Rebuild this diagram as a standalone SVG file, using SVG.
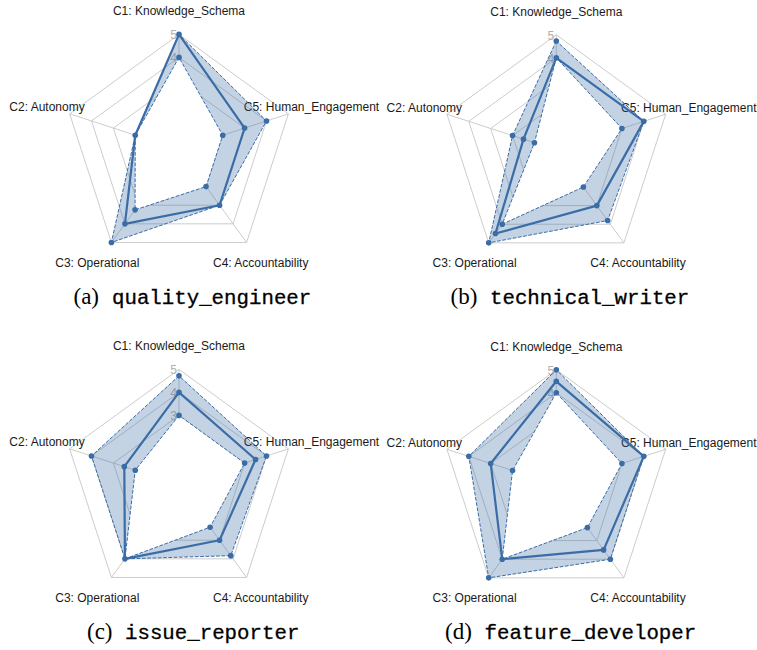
<svg xmlns="http://www.w3.org/2000/svg" xmlns:xlink="http://www.w3.org/1999/xlink" width="757" height="650" viewBox="0 0 757 650">
<style>
.ring{fill:none;stroke:#c6c6c6;stroke-width:0.9}
.spoke{fill:none;stroke:#c6c6c6;stroke-width:0.9}
.tick{font-family:"Liberation Sans",Arial,sans-serif;font-size:12px;fill:#b0b0b0;text-anchor:middle}
.ax{font-family:"Liberation Sans",Arial,sans-serif;font-size:12px;fill:#1a1a1a;text-anchor:middle}
.band{fill:#3a6ca6;fill-opacity:0.3;stroke:none}
.hole{fill:#ffffff;stroke:none}
.dash{fill:none;stroke:#3a6ca6;stroke-width:1;stroke-dasharray:3.7 1.6}
.mean{fill:none;stroke:#3a6ca6;stroke-width:2.2;stroke-linejoin:round}
.dot{fill:#3a6ca6}
.capl{font-family:"Liberation Serif","Times New Roman",serif;font-size:23px;fill:#000}
.capm{font-family:"Liberation Mono","Courier New",monospace;font-size:20.75px;fill:#000;stroke:#000;stroke-width:0.3}
</style>
<defs>
<g id="grid">
<polygon class="ring" points="0,-115 -109.37,-35.54 -67.59,93.04 67.59,93.04 109.37,-35.54"/>
<polygon class="ring" points="0,-92 -87.5,-28.43 -54.07,74.43 54.07,74.43 87.5,-28.43"/>
<polygon class="ring" points="0,-69 -65.62,-21.32 -40.56,55.82 40.56,55.82 65.62,-21.32"/>
<polygon class="ring" points="0,-46 -43.75,-14.21 -27.04,37.21 27.04,37.21 43.75,-14.21"/>
<polygon class="ring" points="0,-23 -21.87,-7.11 -13.52,18.61 13.52,18.61 21.87,-7.11"/>
<path class="spoke" d="M0,0L0,-115M0,0L-109.37,-35.54M0,0L-67.59,93.04M0,0L67.59,93.04M0,0L109.37,-35.54"/>
<text class="tick" x="-5.5" y="-110">5</text>
<text class="tick" x="-5.5" y="-87">4</text>
</g>
<g id="axlabels">
<text class="ax" x="0" y="-134">C1: Knowledge_Schema</text>
<text class="ax" x="-132" y="-38">C2: Autonomy</text>
<text class="ax" x="-81.7" y="117.5">C3: Operational</text>
<text class="ax" x="81.7" y="117.5">C4: Accountability</text>
<text class="ax" x="132.5" y="-38">C5: Human_Engagement</text>
</g>
</defs>

<g id="panel-a">
<g transform="translate(179,149.4)">
<use href="#grid"/>
<use href="#axlabels"/>
<polygon class="band" points="0,-115 -43.75,-14.21 -67.59,93.04 40.56,55.82 87.5,-28.43"/>
<polygon class="hole" points="0,-92 -43.75,-14.21 -43.94,60.47 27.04,37.21 43.75,-14.21"/>
<polygon class="dash" points="0,-115 -43.75,-14.21 -67.59,93.04 40.56,55.82 87.5,-28.43"/>
<polygon class="dash" points="0,-92 -43.75,-14.21 -43.94,60.47 27.04,37.21 43.75,-14.21"/>
<polygon class="mean" points="0,-115 -43.75,-14.21 -54.07,74.43 40.56,55.82 65.62,-21.32"/>
<g class="dot">
<circle cx="0" cy="-115" r="2.8"/><circle cx="-43.75" cy="-14.21" r="2.8"/><circle cx="-67.59" cy="93.04" r="2.8"/><circle cx="40.56" cy="55.82" r="2.8"/><circle cx="87.5" cy="-28.43" r="2.8"/>
<circle cx="-54.07" cy="74.43" r="2.8"/><circle cx="65.62" cy="-21.32" r="2.8"/>
<circle cx="0" cy="-92" r="2.8"/><circle cx="-43.94" cy="60.47" r="2.8"/><circle cx="27.04" cy="37.21" r="2.8"/><circle cx="43.75" cy="-14.21" r="2.8"/>
</g>
</g>
<text class="capl" x="73.5" y="304">(a)</text>
<text class="capm" x="112" y="304">quality_engineer</text>
</g>

<g id="panel-b">
<g transform="translate(556.3,149.8)">
<use href="#grid"/>
<use href="#axlabels"/>
<polygon class="band" points="0,-108.79 -43.75,-14.21 -67.59,93.04 51.37,70.71 87.5,-28.43"/>
<polygon class="hole" points="0,-92 -21.87,-7.11 -54.07,74.43 27.04,37.21 65.62,-21.32"/>
<polygon class="dash" points="0,-108.79 -43.75,-14.21 -67.59,93.04 51.37,70.71 87.5,-28.43"/>
<polygon class="dash" points="0,-92 -21.87,-7.11 -54.07,74.43 27.04,37.21 65.62,-21.32"/>
<polygon class="mean" points="0,-92 -32.81,-10.66 -60.84,83.73 40.56,55.82 87.5,-28.43"/>
<g class="dot">
<circle cx="0" cy="-108.79" r="2.8"/><circle cx="-43.75" cy="-14.21" r="2.8"/><circle cx="-67.59" cy="93.04" r="2.8"/><circle cx="51.37" cy="70.71" r="2.8"/><circle cx="87.5" cy="-28.43" r="2.8"/>
<circle cx="0" cy="-92" r="2.8"/><circle cx="-32.81" cy="-10.66" r="2.8"/><circle cx="-60.84" cy="83.73" r="2.8"/><circle cx="40.56" cy="55.82" r="2.8"/>
<circle cx="-21.87" cy="-7.11" r="2.8"/><circle cx="-54.07" cy="74.43" r="2.8"/><circle cx="27.04" cy="37.21" r="2.8"/><circle cx="65.62" cy="-21.32" r="2.8"/>
</g>
</g>
<text class="capl" x="450.5" y="304">(b)</text>
<text class="capm" x="490" y="304">technical_writer</text>
</g>

<g id="panel-c">
<g transform="translate(179,484.4)">
<use href="#grid"/>
<text class="tick" x="-5.5" y="-64">3</text>
<use href="#axlabels"/>
<polygon class="band" points="0,-108.56 -87.5,-28.43 -54.07,74.43 51.78,71.26 87.5,-28.43"/>
<polygon class="hole" points="0,-69 -43.75,-14.21 -54.07,74.43 31.09,42.8 65.62,-21.32"/>
<polygon class="dash" points="0,-108.56 -87.5,-28.43 -54.07,74.43 51.78,71.26 87.5,-28.43"/>
<polygon class="dash" points="0,-69 -43.75,-14.21 -54.07,74.43 31.09,42.8 65.62,-21.32"/>
<polygon class="mean" points="0,-92 -54.69,-17.77 -54.07,74.43 40.56,55.82 76.56,-24.87"/>
<g class="dot">
<circle cx="0" cy="-108.56" r="2.8"/><circle cx="-87.5" cy="-28.43" r="2.8"/><circle cx="-54.07" cy="74.43" r="2.8"/><circle cx="51.78" cy="71.26" r="2.8"/><circle cx="87.5" cy="-28.43" r="2.8"/>
<circle cx="0" cy="-92" r="2.8"/><circle cx="-54.69" cy="-17.77" r="2.8"/><circle cx="40.56" cy="55.82" r="2.8"/><circle cx="76.56" cy="-24.87" r="2.8"/>
<circle cx="0" cy="-69" r="2.8"/><circle cx="-43.75" cy="-14.21" r="2.8"/><circle cx="31.09" cy="42.8" r="2.8"/><circle cx="65.62" cy="-21.32" r="2.8"/>
</g>
</g>
<text class="capl" x="87" y="639">(c)</text>
<text class="capm" x="125" y="639">issue_reporter</text>
</g>

<g id="panel-d">
<g transform="translate(556.3,484.8)">
<use href="#grid"/>
<use href="#axlabels"/>
<polygon class="band" points="0,-115 -87.5,-28.43 -67.59,93.04 54.07,74.43 87.5,-28.43"/>
<polygon class="hole" points="0,-92 -43.75,-14.21 -54.07,74.43 31.09,42.8 65.62,-21.32"/>
<polygon class="dash" points="0,-115 -87.5,-28.43 -67.59,93.04 54.07,74.43 87.5,-28.43"/>
<polygon class="dash" points="0,-92 -43.75,-14.21 -54.07,74.43 31.09,42.8 65.62,-21.32"/>
<polygon class="mean" points="0,-103.5 -65.62,-21.32 -54.07,74.43 47.32,65.12 87.5,-28.43"/>
<g class="dot">
<circle cx="0" cy="-115" r="2.8"/><circle cx="-87.5" cy="-28.43" r="2.8"/><circle cx="-67.59" cy="93.04" r="2.8"/><circle cx="54.07" cy="74.43" r="2.8"/><circle cx="87.5" cy="-28.43" r="2.8"/>
<circle cx="0" cy="-103.5" r="2.8"/><circle cx="-65.62" cy="-21.32" r="2.8"/><circle cx="-54.07" cy="74.43" r="2.8"/><circle cx="47.32" cy="65.12" r="2.8"/>
<circle cx="0" cy="-92" r="2.8"/><circle cx="-43.75" cy="-14.21" r="2.8"/><circle cx="31.09" cy="42.8" r="2.8"/><circle cx="65.62" cy="-21.32" r="2.8"/>
</g>
</g>
<text class="capl" x="445" y="639">(d)</text>
<text class="capm" x="484.5" y="639">feature_developer</text>
</g>
</svg>
